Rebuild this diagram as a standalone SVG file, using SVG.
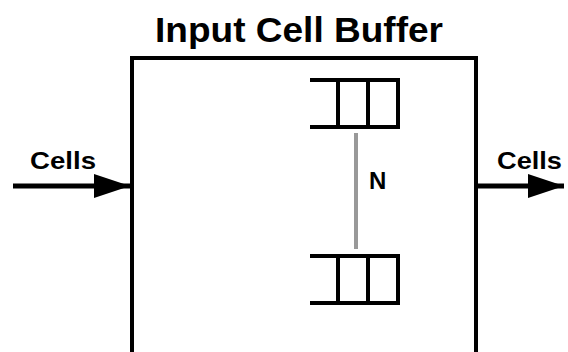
<svg xmlns="http://www.w3.org/2000/svg" width="568" height="352" viewBox="0 0 568 352">
<defs>
<style>
.t{font-family:"Liberation Sans",Arial,sans-serif;font-weight:bold;fill:#000}
.k{stroke:#000;stroke-width:4;fill:none}
.a{stroke:#000;stroke-width:5;fill:none}
</style>
<marker id="ah" markerUnits="userSpaceOnUse" markerWidth="36" markerHeight="24" refX="36" refY="12" orient="auto">
<path d="M0,0 L36,12 L0,24 Z" fill="#000"/>
</marker>
</defs>
<rect width="568" height="352" fill="#fff"/>
<text class="t" x="155" y="42" font-size="35" textLength="288" lengthAdjust="spacingAndGlyphs">Input Cell Buffer</text>
<g id="buffer">
<rect class="k" x="132" y="58" width="344" height="297"/>
</g>
<g id="queue-top">
<path class="k" d="M310,80 H398 V127 H310 M338,80 V127 M368,80 V127"/>
</g>
<g id="queue-bottom">
<path class="k" d="M310,256 H398 V303 H310 M338,256 V303 M368,256 V303"/>
</g>
<g id="n-label">
<text class="t" x="369" y="189" font-size="24">N</text>
</g>
<g id="connectors">
<line x1="356" y1="133" x2="356" y2="249" stroke="#999" stroke-width="4"/>
<line class="a" x1="13" y1="186" x2="130" y2="186" marker-end="url(#ah)"/>
<line class="a" x1="478" y1="186" x2="564" y2="186" marker-end="url(#ah)"/>
</g>
<text class="t" x="30" y="169" font-size="24" textLength="66" lengthAdjust="spacingAndGlyphs">Cells</text>
<text class="t" x="497" y="169" font-size="24" textLength="65" lengthAdjust="spacingAndGlyphs">Cells</text>
</svg>
